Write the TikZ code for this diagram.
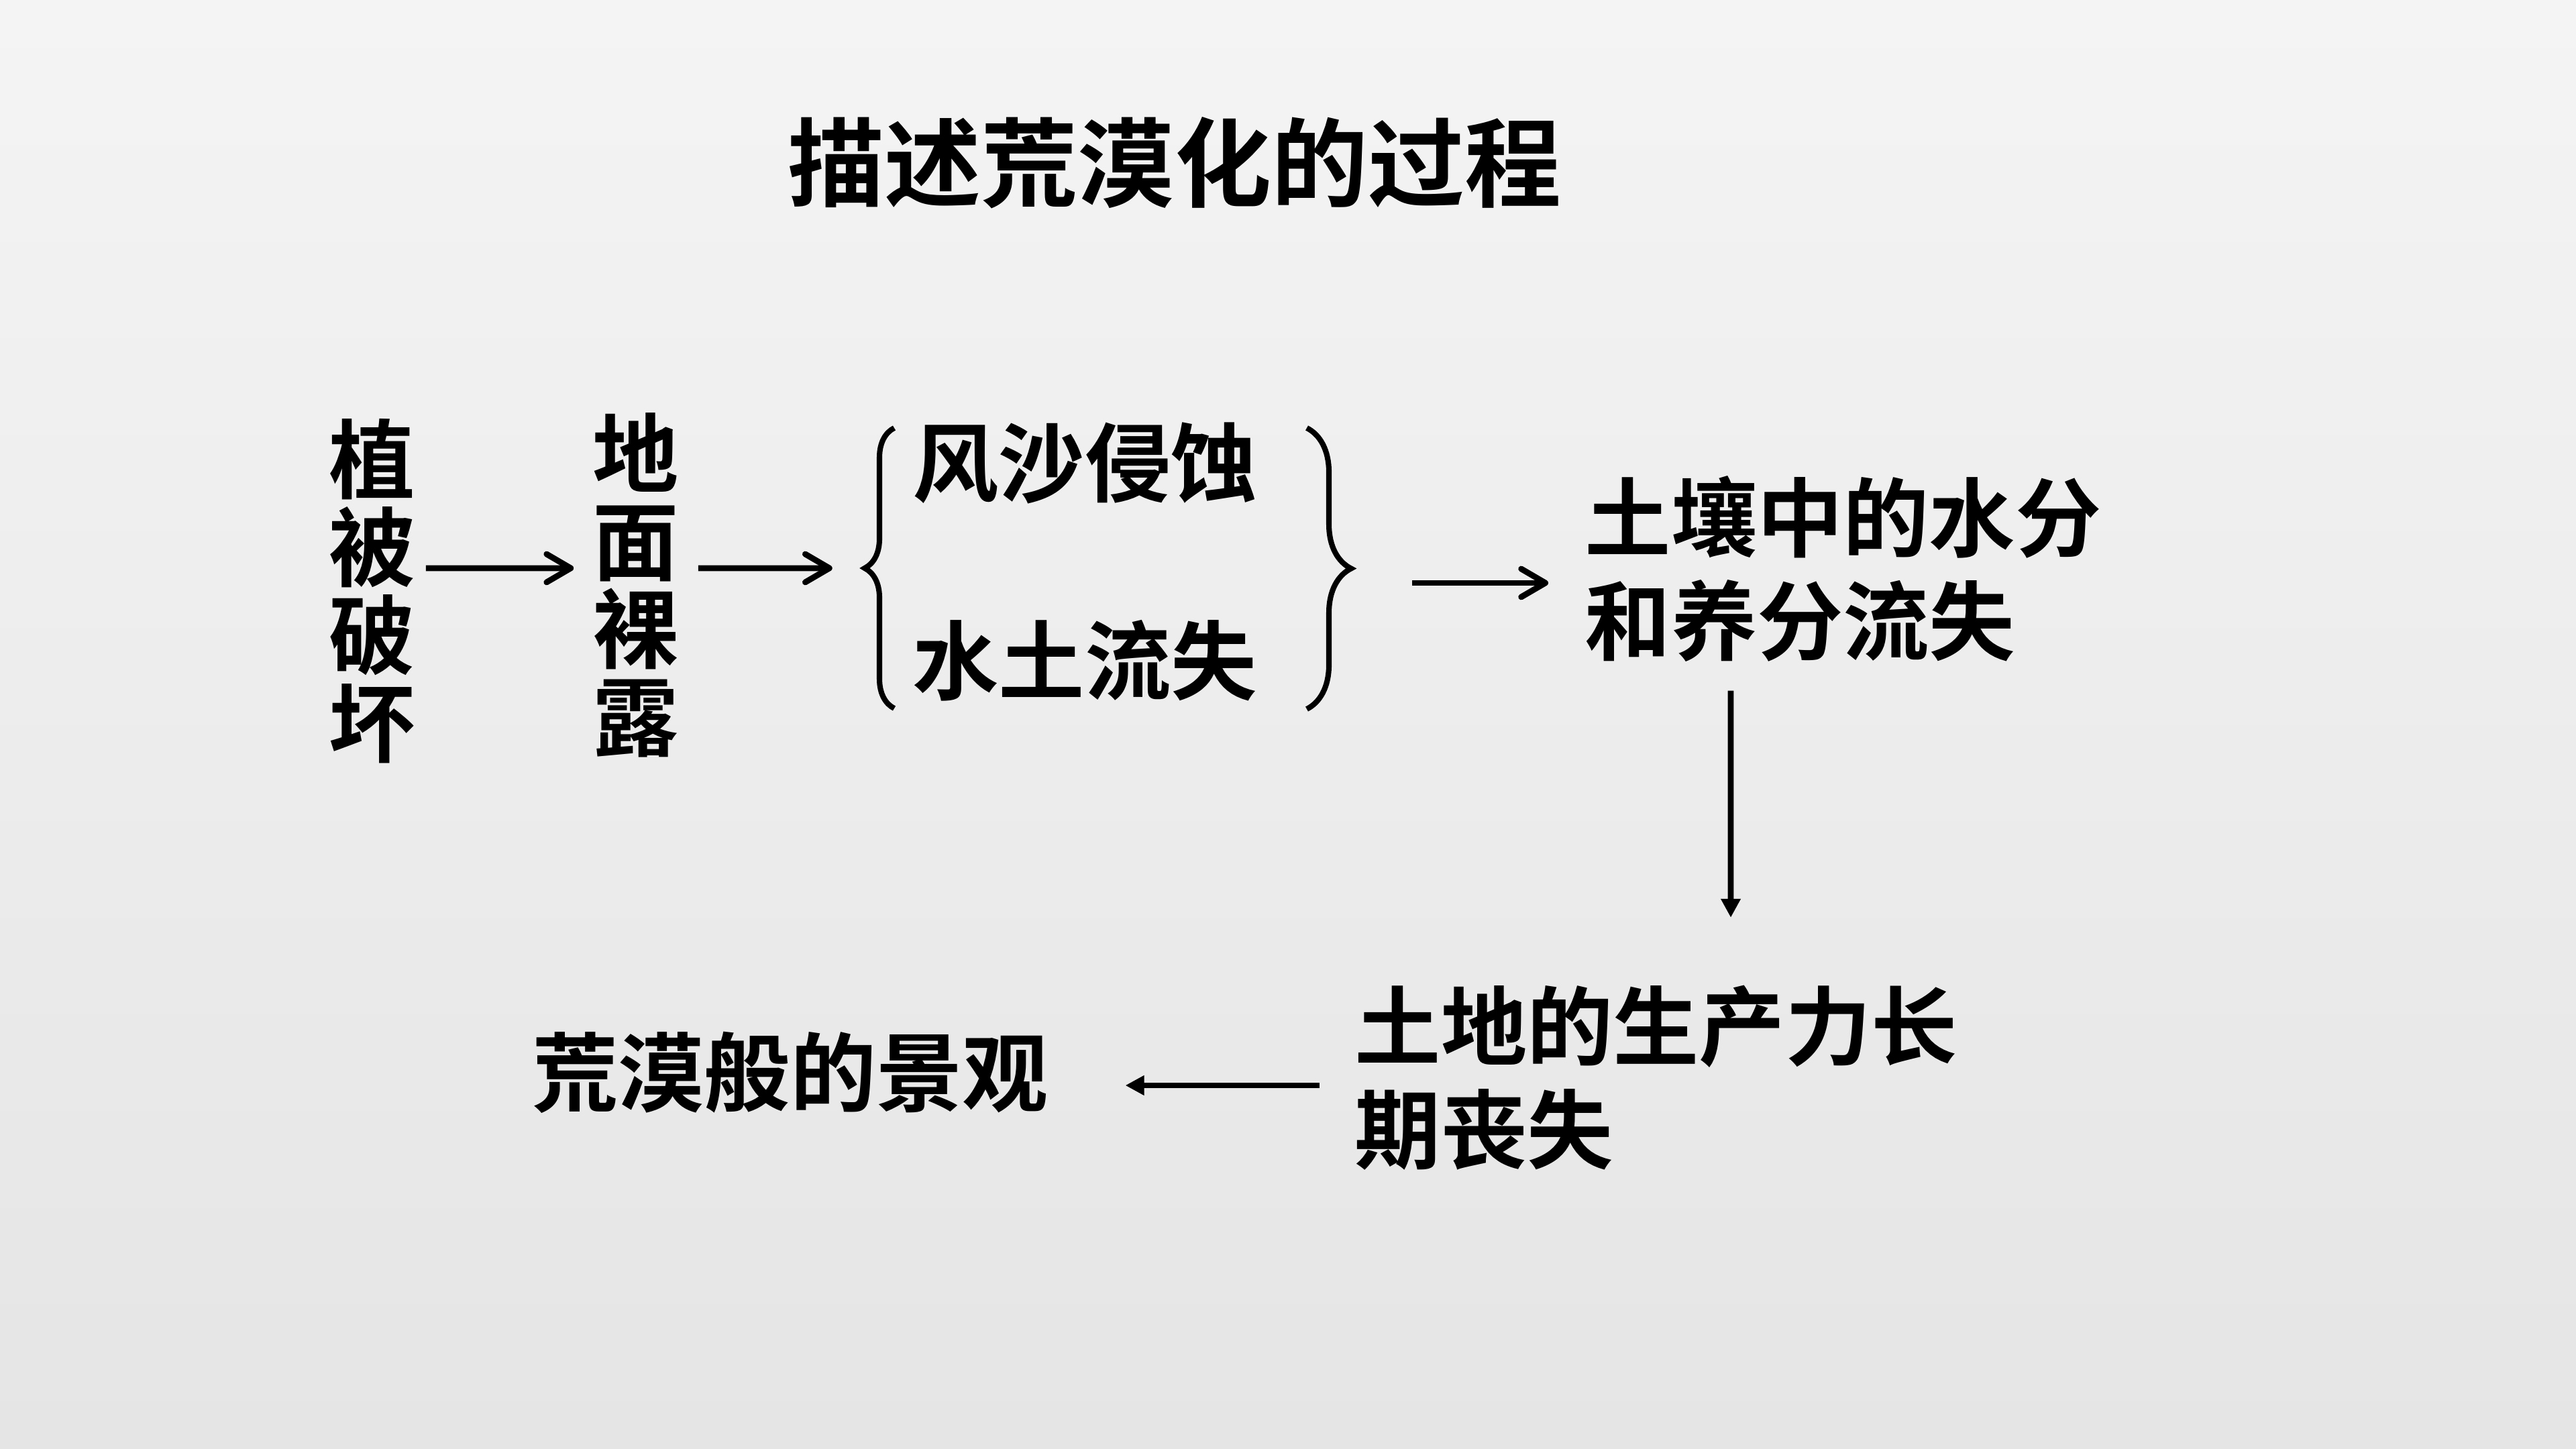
\documentclass[tikz,border=0pt]{standalone}
\usepackage{fontspec}
\newfontfamily\cjk{Noto Sans CJK SC}[BoldFont={Noto Sans CJK SC Bold}]
\usetikzlibrary{arrows.meta,decorations.pathreplacing,calc}
\definecolor{bgtop}{HTML}{F4F4F4}
\definecolor{bgbot}{HTML}{E5E5E5}
\begin{document}
\begin{tikzpicture}
\shade[top color=bgtop,bottom color=bgbot] (0,0) rectangle (38.4,21.6);
\useasboundingbox (0,0) rectangle (38.4,21.6);
\tikzset{
 txt/.style={inner sep=0pt, font=\cjk\bfseries\fontsize{36.5}{44}\selectfont, text=black},
 vtxt/.style={inner sep=0pt, align=center, text=black, font=\cjk\bfseries\fontsize{36.5}{37.3}\selectfont},
 mtxt/.style={inner sep=0pt, align=left, anchor=west, text=black, font=\cjk\bfseries\fontsize{36.5}{44}\selectfont},
 barb/.style={line width=2.5pt, -{Straight Barb[round,length=0.36cm,width=0.42cm]}},
 tri/.style={line width=2.5pt, -{Triangle[length=0.28cm,width=0.28cm]}},
 bracestyle/.style={line width=2.3pt, decorate, decoration={brace, amplitude=#1}},
}
\node[txt, font=\cjk\bfseries\fontsize{41}{48}\selectfont] (title) at (17.51,19.17) {描述荒漠化的过程};

\node[vtxt] (veg) at (5.55,12.79) {植\\被\\破\\坏};
\node[vtxt] (bare) at (9.48,12.88) {地\\面\\裸\\露};
\node[txt] (wind) at (16.17,14.70) {风沙侵蚀};
\node[txt] (water) at (16.17,11.75) {水土流失};
\node[mtxt] (soil) at (23.62,13.12) {土壤中的水分\\和养分流失};
\node[mtxt] (prod) at (20.19,5.535) {土地的生产力长\\期丧失};
\node[txt] (desert) at (11.78,5.61) {荒漠般的景观};

\draw[bracestyle=0.44cm] (13.33,11.04) -- (13.33,15.22);
\draw[bracestyle=0.66cm] (19.48,15.22) -- (19.48,11.03);

\draw[barb] ($(veg.east)+(0.15,0.34)$) -- ($(bare.west)+(-0.28,0.25)$);
\draw[barb] ($(bare.east)+(0.28,0.25)$) -- ($(wind.west)+(-1.19,-1.57)$);
\draw[barb] ($(soil.west)+(-2.57,-0.21)$) -- ($(soil.west)+(-0.54,-0.21)$);
\draw[tri] ($(soil.south west)+(2.18,-0.42)$) -- ($(prod.north west)+(5.61,1.0)$);
\draw[tri] ($(prod.west)+(-0.52,-0.115)$) -- ($(desert.east)+(1.14,-0.19)$);
\end{tikzpicture}
\end{document}
